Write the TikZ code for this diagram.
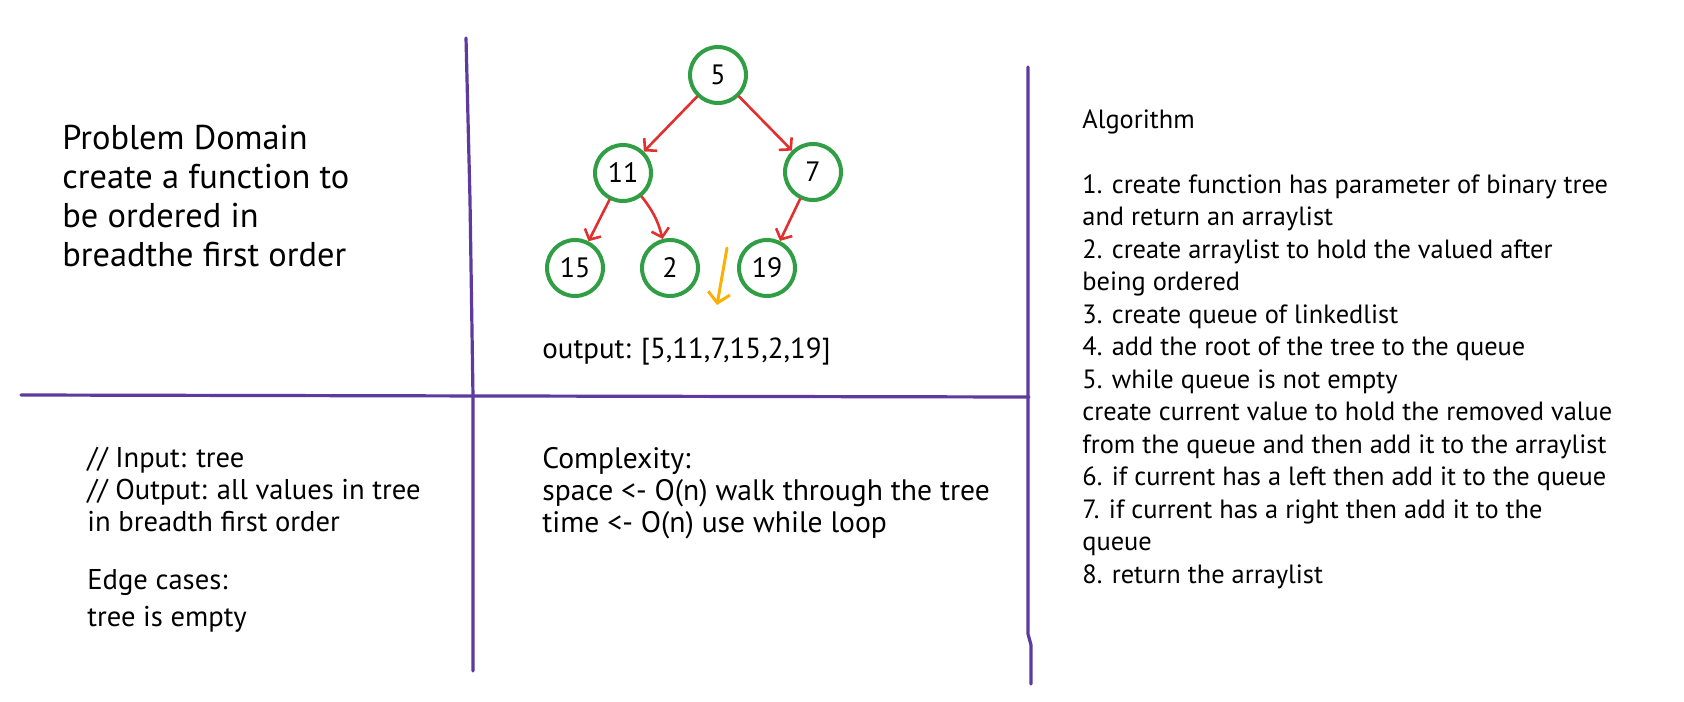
\documentclass[tikz,border=0pt]{standalone}
\usepackage{fontspec}
\setmainfont{PT Sans}
\usetikzlibrary{arrows.meta}

\definecolor{linepurple}{HTML}{5C3A9E}
\definecolor{nodegreen}{HTML}{2F9E44}
\definecolor{edgered}{HTML}{E03131}
\definecolor{markorange}{HTML}{FAB005}

\tikzset{
    treenode/.style={circle, draw=nodegreen, line width=2pt, minimum size=28pt, inner sep=0pt, font=\fontsize{14}{16}\selectfont},
    edgearrow/.style={edgered, line width=1.3pt, line cap=round, -{Straight Barb[length=4pt,width=9pt]}},
    note/.style={anchor=north west, align=left, inner sep=0pt}
}

\begin{document}
\begin{tikzpicture}[x=0.5pt,y=-0.5pt]

            \useasboundingbox (0,0) rectangle (1684,701);

            % quadrant lines
            \draw[linepurple, line width=1.6pt, line cap=round] (466,38) -- (470,200) -- (473,397) -- (473,671);
            \draw[linepurple, line width=1.6pt, line cap=round] (1028,67) -- (1028,634) -- (1031,645) -- (1031,684);
            \draw[linepurple, line width=1.6pt, line cap=round] (21,395) -- (500,396) -- (1029,397);

            % tree
            \node[treenode] (n5) at (718,75) {5};
            \node[treenode] (n11) at (623,173) {11};
            \node[treenode] (n7) at (813,172) {7};
            \node[treenode] (n15) at (575,268) {15};
            \node[treenode] (n2) at (670,268) {2};
            \node[treenode] (n19) at (767,268) {19};

            \draw[edgearrow] (n5) -- (n11);
            \draw[edgearrow] (n5) -- (n7);
            \draw[edgearrow] (n11) -- (n15);
            \draw[edgearrow] (n11) to[bend left=12] (n2);
            \draw[edgearrow] (n7) -- (n19);

            \coordinate (qtop) at (727,248);
            \coordinate (qbot) at (717,305);
            \draw[markorange, line width=1.5pt, line cap=round, -{Straight Barb[length=5pt,width=11pt]}] (qtop) -- (qbot);

            \node[note, font=\fontsize{14.5}{17}\selectfont] (output) at (542,337) {output: [5,11,7,15,2,19]};

            % text blocks
            \node[note, font=\fontsize{17.2}{19.5}\selectfont] (problem) at (62,125)
                {Problem Domain\\create a function to\\be ordered in\\breadthe first order};

            \node[note, font=\fontsize{14.3}{16}\selectfont] (inout) at (87,447)
                {// Input: tree\\// Output: all values in tree\\in breadth first order\\[13pt]Edge cases:\\[2.5pt]tree is empty};

            \node[note, font=\fontsize{14.8}{16}\selectfont] (complexity) at (542,447)
                {Complexity:\\space <- O(n) walk through the tree\\time <- O(n) use while loop};

            \node[note, font=\fontsize{13.2}{16.25}\selectfont] (algorithm) at (1082,109)
                {Algorithm\\[16.25pt]
                1. create function has parameter of binary tree\\
                and return an arraylist\\
                2. create arraylist to hold the valued after\\
                being ordered\\
                3. create queue of linkedlist\\
                4. add the root of the tree to the queue\\
                5. while queue is not empty\\
                create current value to hold the removed value\\
                from the queue and then add it to the arraylist\\
                6. if current has a left then add it to the queue\\
                7. if current has a right then add it to the\\
                queue\\
                8. return the arraylist};

        \end{tikzpicture}
\end{document}
